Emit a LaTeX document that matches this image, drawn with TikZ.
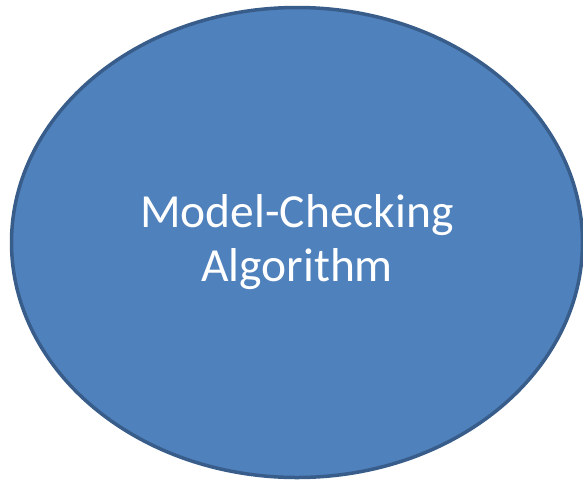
\documentclass[tikz,border=0pt]{standalone}
\usepackage{fontspec}
\setmainfont{Carlito}
\usetikzlibrary{shapes.geometric}
\definecolor{algofill}{HTML}{4F81BD}
\definecolor{algoline}{HTML}{385D8A}

\begin{document}
\begin{tikzpicture}[x=1pt, y=-1pt]
			%%%%% START %%%%%
			
			\useasboundingbox (0, 0) rectangle (583, 480);
			
			\node[ellipse, draw=algoline, fill=algofill, line width=3.5pt, minimum width=571pt, minimum height=470pt, inner sep=0pt, text=white, align=center, font=\fontsize{47.5}{54}\selectfont] (algo) at (297, 242.5) {Model-Checking\\Algorithm};
			
			%%%%% END %%%%%
		\end{tikzpicture}
\end{document}
